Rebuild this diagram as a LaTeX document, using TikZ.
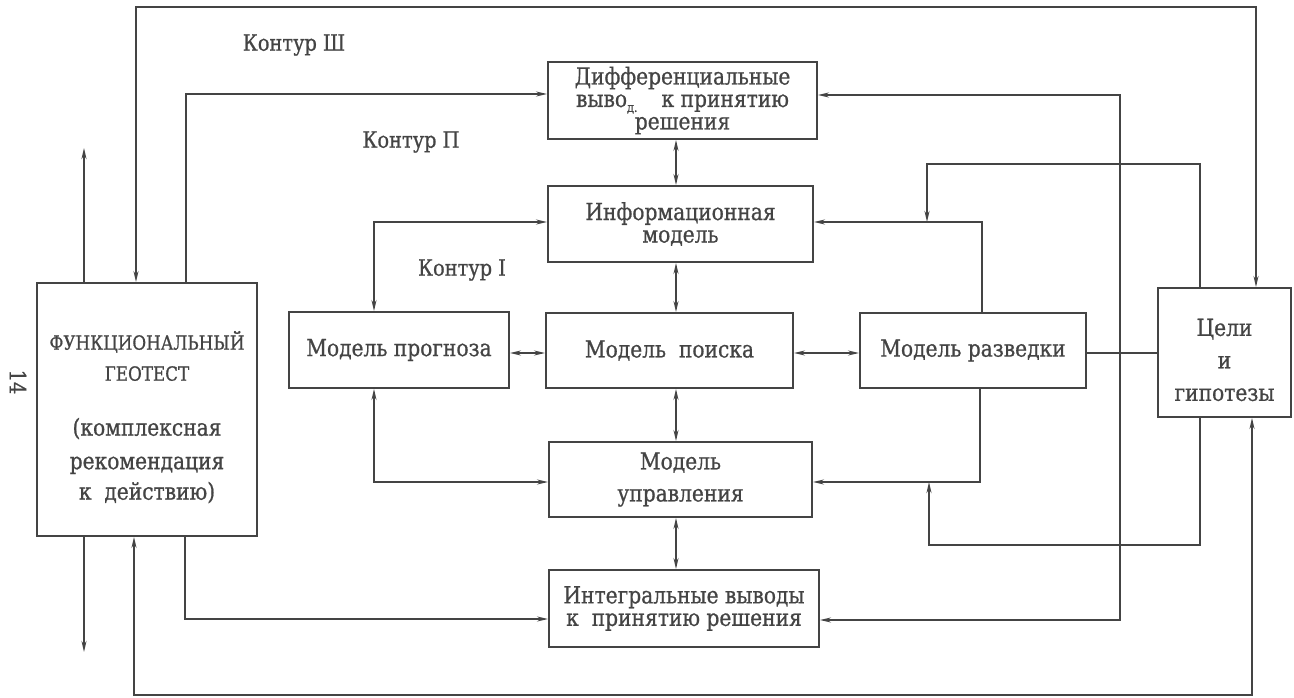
\documentclass[tikz,border=0pt]{standalone}
\usepackage{fontspec}
\setmainfont{DejaVu Serif}[FakeStretch=0.86, FakeBold=0.8]
\usetikzlibrary{arrows.meta, positioning}
\definecolor{ink}{HTML}{444444}
\newcommand{\tyfont}{\fontsize{23.5}{22.5}\selectfont\lineskiplimit=-60pt\relax}
\newcommand{\capsfont}{\fontsize{19.5}{22}\selectfont}
\tikzset{
  unit/.style  = {rectangle, draw=ink, line width=1.9pt, inner sep=0pt,
                  align=center, text=ink, font=\tyfont},
  wire/.style  = {draw=ink, line width=1.7pt},
  flow/.style  = {wire, -{Stealth[length=11pt,width=5pt]}},
  dflow/.style = {wire, {Stealth[length=11pt,width=5pt]}-{Stealth[length=11pt,width=5pt]}},
  tag/.style   = {text=ink, font=\fontsize{22.5}{22.5}\selectfont},
}

\begin{document}
\begin{tikzpicture}[x=1pt, y=-1pt]
  \useasboundingbox (0,0) rectangle (1294,698);

  \node[unit, minimum width=220pt, minimum height=253pt] (funk) at (147,409.5)
    {\rule{0pt}{34pt}{\capsfont ФУНКЦИОНАЛЬНЫЙ}\\[8.5pt]{\capsfont ГЕОТЕСТ}\\[32.5pt](комплексная\\[11pt]рекомендация\\[8pt]к\ \ действию)};
  \node[unit, minimum width=269pt, minimum height=77pt] (diff) at (682.5,100.5)
    {Дифференциальные\\выво\raisebox{-0.4ex}{\fontsize{13}{13}\selectfont д.}\hspace{24pt}к принятию\\решения};
  \node[unit, minimum width=265pt, minimum height=76pt] (info) at (680.5,224)
    {Информационная\\модель};
  \node[unit, minimum width=220pt, minimum height=76pt] (prog) at (399,350)
    {Модель прогноза};
  \node[unit, minimum width=247pt, minimum height=75pt] (poisk) at (669.5,350.5)
    {Модель\ \ поиска};
  \node[unit, minimum width=226pt, minimum height=75pt] (razv) at (973,350.5)
    {Модель разведки};
  \node[unit, minimum width=263pt, minimum height=75pt] (upr) at (680.5,479.5)
    {Модель\\[9.5pt]управления};
  \node[unit, minimum width=270pt, minimum height=77pt] (integr) at (684,608.5)
    {Интегральные выводы\\к\ \ принятию решения};
  \node[unit, minimum width=133pt, minimum height=129pt] (celi) at (1224.5,352.5)
    {\rule{0pt}{32pt}Цели\\[10pt]и\\[10pt]гипотезы};

  \node[tag] (k3) at (294,45) {Контур Ш};
  \node[tag] (k2) at (411,142) {Контур П};
  \node[tag] (k1) at (462,270) {Контур I};
  \node[tag, rotate=-90] (pg) at (18,382) {14};

  % outer loop
  \draw[dflow] (136,0 |- funk.north) -- (136,7) -- (1256,7) -- (1256,0 |- celi.north);
  \draw[dflow] (134,0 |- funk.south) |- (1252,695) -- (1252,0 |- celi.south);
  \draw[flow] (186,0 |- funk.north) |- (diff.west |- 0,94);
  \draw[flow] (185,0 |- funk.south) |- (integr.west |- 0,619);
  \draw[dflow] (diff.east |- 0,95) -| (1120,620) -- (integr.east |- 0,620);

  % outputs of the geotest
  \coordinate (outU) at (84,148);
  \coordinate (outD) at (84,652);
  \draw[flow] (84,0 |- funk.north) -- (outU);
  \draw[flow] (84,0 |- funk.south) -- (outD);

  % central column
  \draw[dflow] (676,0 |- diff.south) -- (676,0 |- info.north);
  \draw[dflow] (676,0 |- info.south) -- (676,0 |- poisk.north);
  \draw[dflow] (676,0 |- poisk.south) -- (676,0 |- upr.north);
  \draw[dflow] (676,0 |- upr.south) -- (676,0 |- integr.north);

  % middle row
  \draw[dflow] (prog.east |- 0,353) -- (poisk.west |- 0,353);
  \draw[dflow] (poisk.east |- 0,353) -- (razv.west |- 0,353);
  \draw[wire] (razv.east |- 0,353) -- (celi.west |- 0,353);

  % inner loops
  \draw[dflow] (info.west |- 0,222) -| (374,0 |- prog.north);
  \draw[flow] (982,0 |- razv.north) |- (info.east |- 0,222);
  \draw[dflow] (374,0 |- prog.south) |- (upr.west |- 0,482);
  \draw[flow] (980,0 |- razv.south) |- (upr.east |- 0,482);

  % from the goals
  \coordinate (jA) at (927,222);
  \coordinate (jB) at (929,482);
  \draw[flow] (1200,0 |- celi.north) |- (927,164) -- (jA);
  \draw[flow] (1200,0 |- celi.south) |- (929,545) -- (jB);
\end{tikzpicture}
\end{document}
